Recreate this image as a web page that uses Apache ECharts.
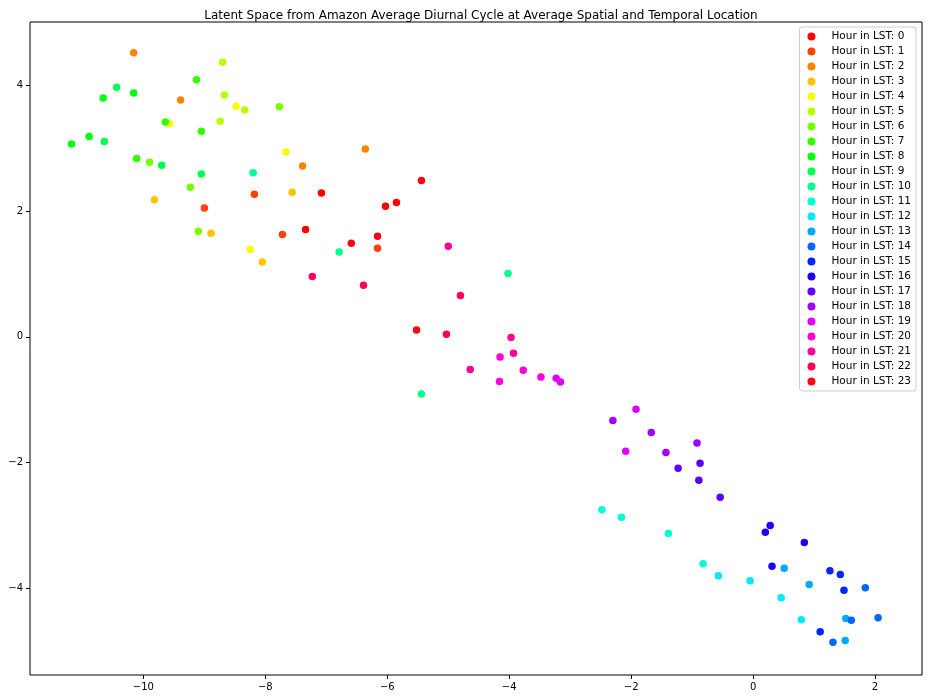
<!DOCTYPE html>
<html>
<head>
<meta charset="utf-8">
<script src="https://cdn.jsdelivr.net/npm/echarts@6/dist/echarts.min.js"></script>
<style>html,body{margin:0;padding:0;background:#fff;}#chart{width:928px;height:699px;}</style>
</head>
<body>
<div id="chart"></div>
<script>
const titleText = 'Latent Space from Amazon Average Diurnal Cycle at Average Spatial and Temporal Location';
const hours = [0,1,2,3,4,5,6,7,8,9,10,11,12,13,14,15,16,17,18,19,20,21,22,23];
const xTicks = [-10,-8,-6,-4,-2,0,2];
const yTicks = [-4,-2,0,2,4];

const h00 = [[-7.08,2.29],[-6.03,2.08],[-5.85,2.14],[-7.34,1.71]];
const h01 = [[-8.18,2.27],[-9.00,2.05],[-7.72,1.63],[-6.16,1.41]];
const h02 = [[-10.16,4.52],[-9.39,3.77],[-7.39,2.72],[-6.36,2.99]];
const h03 = [[-7.56,2.30],[-9.82,2.18],[-8.89,1.65],[-8.05,1.19]];
const h04 = [[-8.48,3.67],[-9.57,3.39],[-7.66,2.94],[-8.25,1.39]];
const h05 = [[-8.70,4.37],[-8.67,3.85],[-8.34,3.61],[-8.74,3.43]];
const h06 = [[-7.77,3.66],[-9.90,2.78],[-9.23,2.38],[-9.10,1.68]];
const h07 = [[-9.13,4.09],[-9.64,3.42],[-9.05,3.27],[-10.11,2.84]];
const h08 = [[-10.66,3.80],[-10.16,3.88],[-11.18,3.07],[-10.89,3.19]];
const h09 = [[-10.44,3.97],[-10.64,3.11],[-9.70,2.73],[-9.05,2.59]];
const h10 = [[-8.20,2.61],[-6.79,1.35],[-4.02,1.01],[-5.44,-0.91]];
const h11 = [[-2.48,-2.75],[-2.16,-2.87],[-1.39,-3.13],[-0.82,-3.61]];
const h12 = [[-0.57,-3.80],[-0.05,-3.88],[0.46,-4.15],[0.79,-4.50]];
const h13 = [[0.51,-3.68],[0.92,-3.94],[1.52,-4.48],[1.51,-4.83]];
const h14 = [[1.84,-3.99],[1.61,-4.51],[2.05,-4.47],[1.31,-4.86]];
const h15 = [[1.26,-3.72],[1.43,-3.78],[1.49,-4.03],[1.10,-4.69]];
const h16 = [[0.28,-3.00],[0.20,-3.11],[0.84,-3.27],[0.31,-3.65]];
const h17 = [[-0.87,-2.01],[-1.23,-2.09],[-0.89,-2.28],[-0.54,-2.55]];
const h18 = [[-2.30,-1.33],[-1.67,-1.52],[-0.92,-1.69],[-1.43,-1.84]];
const h19 = [[-1.92,-1.15],[-2.09,-1.82],[-3.23,-0.66],[-3.16,-0.72]];
const h20 = [[-4.15,-0.32],[-3.77,-0.53],[-4.16,-0.71],[-3.48,-0.64]];
const h21 = [[-3.97,-0.01],[-3.93,-0.26],[-4.64,-0.52],[-5.00,1.44]];
const h22 = [[-7.23,0.96],[-6.39,0.82],[-4.80,0.66],[-5.03,0.04]];
const h23 = [[-5.44,2.49],[-6.59,1.49],[-6.16,1.60],[-5.52,0.11]];
const hourData = [h00,h01,h02,h03,h04,h05,h06,h07,h08,h09,h10,h11,h12,h13,h14,h15,h16,h17,h18,h19,h20,h21,h22,h23];

// matplotlib 'hsv' colormap segment data
const segR = [[0,1],[0.158730,1],[0.174603,0.96875],[0.333333,0.03125],[0.349206,0],[0.666667,0],[0.682540,0.03125],[0.841270,0.96875],[0.857143,1],[1,1]];
const segG = [[0,0],[0.158730,0.9375],[0.174603,1],[0.507937,1],[0.666667,0.0625],[0.682540,0],[1,0]];
const segB = [[0,0],[0.333333,0],[0.349206,0.0625],[0.507937,1],[0.841270,1],[0.857143,0.9375],[1,0.09375]];
function interp(seg, t) {
  for (let i = 1; i < seg.length; i++) {
    if (t <= seg[i][0]) {
      const f = (t - seg[i-1][0]) / (seg[i][0] - seg[i-1][0]);
      return seg[i-1][1] + f * (seg[i][1] - seg[i-1][1]);
    }
  }
  return seg[seg.length-1][1];
}
function hsvColor(t) {
  const c = v => Math.round(Math.max(0, Math.min(1, v)) * 255);
  return 'rgb(' + c(interp(segR,t)) + ',' + c(interp(segG,t)) + ',' + c(interp(segB,t)) + ')';
}

const FONT = 'DejaVu Sans';
const fmt = v => String(v).replace('-', '\u2212');

const series = hours.map((h, i) => ({
  name: 'Hour in LST: ' + h,
  type: 'scatter',
  data: hourData[i],
  symbol: 'circle',
  symbolSize: 7.5,
  itemStyle: { color: hsvColor(i / (hours.length - 1)), opacity: 1 },
  emphasis: { disabled: true }
}));

const chart = echarts.init(document.getElementById('chart'), null, { renderer: 'canvas' });
chart.setOption({
  animation: false,
  backgroundColor: '#fff',
  textStyle: { fontFamily: FONT },
  title: {
    text: titleText,
    left: 476,
    textAlign: 'center',
    top: 5,
    textStyle: { fontFamily: FONT, fontSize: 12, fontWeight: 'normal', color: '#000' }
  },
  grid: {
    left: 30, right: 6, top: 22, bottom: 24,
    show: true, borderColor: '#000', borderWidth: 1, backgroundColor: 'transparent'
  },
  xAxis: {
    type: 'value',
    position: 'bottom',
    min: -11.86, max: 2.77,
    minInterval: 2, maxInterval: 2, splitNumber: 7,
    axisLine: { show: false, onZero: false },
    axisTick: { show: true, length: 4, lineStyle: { color: '#000' } },
    splitLine: { show: false },
    axisLabel: {
      showMinLabel: false, showMaxLabel: false, margin: 7,
      color: '#000', fontSize: 10, fontFamily: FONT,
      formatter: v => (xTicks.indexOf(v) >= 0 ? fmt(v) : '')
    }
  },
  yAxis: {
    type: 'value',
    position: 'left',
    min: -5.38, max: 5.01,
    minInterval: 2, maxInterval: 2, splitNumber: 5,
    axisLine: { show: false, onZero: false },
    axisTick: { show: true, length: 4, lineStyle: { color: '#000' } },
    splitLine: { show: false },
    axisLabel: {
      showMinLabel: false, showMaxLabel: false, margin: 7,
      color: '#000', fontSize: 10, fontFamily: FONT,
      formatter: v => (yTicks.indexOf(v) >= 0 ? fmt(v) : '')
    }
  },
  legend: {
    orient: 'vertical',
    right: 12, top: 27,
    padding: [4, 5, 4, 8],
    itemWidth: 8, itemHeight: 8, itemGap: 4,
    icon: 'circle',
    backgroundColor: 'rgba(255,255,255,0.8)',
    borderColor: '#ccc', borderWidth: 1, borderRadius: 3,
    selectedMode: false,
    textStyle: { fontFamily: FONT, fontSize: 10.5, color: '#000', lineHeight: 10, padding: [0, 0, 0, 11] },
    data: hours.map(h => 'Hour in LST: ' + h)
  },
  series: series
});
</script>
</body>
</html>
